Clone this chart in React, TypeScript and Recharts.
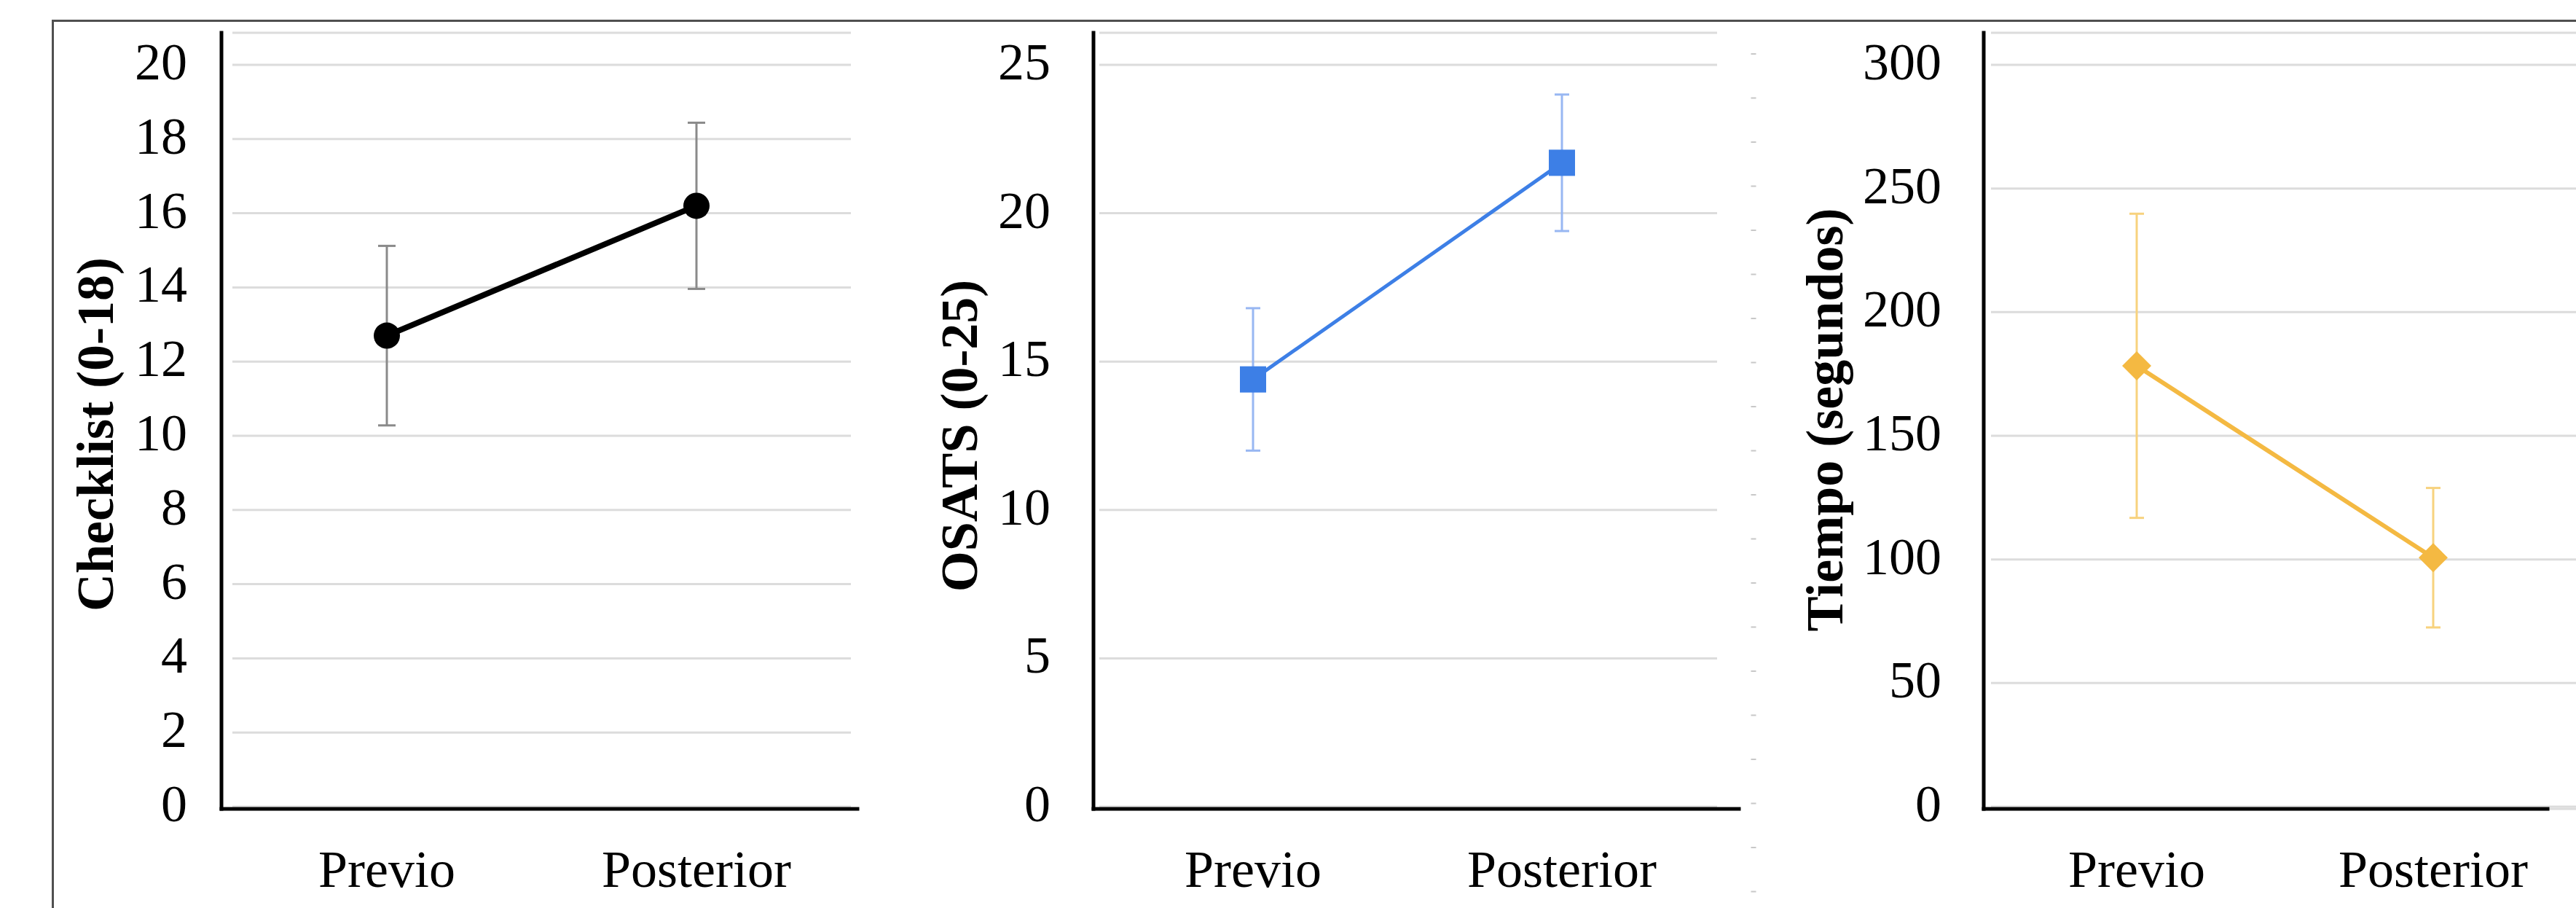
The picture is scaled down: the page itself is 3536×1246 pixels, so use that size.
import React from 'react';
import { LineChart, Line, XAxis, YAxis, CartesianGrid, ErrorBar } from 'recharts';

const categories = ['Previo', 'Posterior'];

const checklistMean = [12.7, 16.2];
const checklistErr = [2.42, 2.24];
const checklistTicks = [0, 2, 4, 6, 8, 10, 12, 14, 16, 18, 20];

const osatsMean = [14.4, 21.7];
const osatsErr = [2.4, 2.3];
const osatsTicks = [0, 5, 10, 15, 20, 25];

const tiempoMean = [178.3, 100.7];
const tiempoErr = [61.5, 28.2];
const tiempoTicks = [0, 50, 100, 150, 200, 250, 300];

const FONT = "'Liberation Serif', 'Times New Roman', Times, serif";

type Marker = 'circle' | 'square' | 'diamond';

interface PanelProps {
  left: number;
  width: number;
  marginLeft: number;
  marginRight: number;
  padLeft: number;
  padRight: number;
  gridL: number;
  gridR: number;
  means: number[];
  errs: number[];
  ticks: number[];
  tickGap: number;
  label: string;
  labelX: number;
  labelY: number;
  color: string;
  lineWidth: number;
  errColor: string;
  errWidth: number;
  capHalf: number;
  marker: Marker;
}

function Panel(p: PanelProps) {
  const data = categories.map((c, i) => ({ cat: c, mean: p.means[i], err: p.errs[i] }));
  const yMax = p.ticks[p.ticks.length - 1];

  const renderDot = (d: any) => {
    const { cx, cy, index } = d;
    if (cx == null || cy == null) return <g key={`d-${index}`} />;
    if (p.marker === 'circle') {
      return <circle key={`d-${index}`} cx={cx} cy={cy} r={18} fill={p.color} />;
    }
    if (p.marker === 'square') {
      return <rect key={`d-${index}`} x={cx - 18} y={cy - 18} width={36} height={36} fill={p.color} />;
    }
    return (
      <polygon
        key={`d-${index}`}
        points={`${cx},${cy - 20} ${cx + 20},${cy} ${cx},${cy + 20} ${cx - 20},${cy}`}
        fill={p.color}
      />
    );
  };

  const gridLine = (g: any) => (
    <line
      key={`g-${g.index}-${g.y1}`}
      x1={g.x1 + p.gridL}
      x2={g.x2 + p.gridR}
      y1={g.y1}
      y2={g.y2}
      stroke="#dcdcdc"
      strokeWidth={3}
    />
  );

  const yTick = (t: any) => (
    <text
      key={`yt-${t.index}`}
      x={t.x}
      y={t.y + 20}
      textAnchor="end"
      fontFamily={FONT}
      fontSize={72}
      fill="#000"
    >
      {t.payload.value}
    </text>
  );

  const xTick = (t: any) => (
    <text
      key={`xt-${t.index}`}
      x={t.x}
      y={t.y + 107}
      textAnchor="middle"
      fontFamily={FONT}
      fontSize={72}
      fill="#000"
    >
      {t.payload.value}
    </text>
  );

  const yLabel = () => (
    <text
      x={p.labelX}
      y={p.labelY}
      transform={`rotate(-90 ${p.labelX} ${p.labelY})`}
      textAnchor="middle"
      fontFamily={FONT}
      fontWeight="bold"
      fontSize={72}
      fill="#000"
    >
      {p.label}
    </text>
  );

  return (
    <div style={{ position: 'absolute', left: p.left, top: 0 }}>
      <LineChart
        width={p.width}
        height={1246}
        data={data}
        margin={{ top: 45, right: p.marginRight, bottom: 6, left: p.marginLeft }}
      >
        <CartesianGrid vertical={false} horizontal={gridLine} />
        <XAxis
          dataKey="cat"
          type="category"
          height={130}
          padding={{ left: p.padLeft, right: p.padRight }}
          axisLine={{ stroke: '#000', strokeWidth: 5, strokeLinecap: 'square' }}
          tickLine={false}
          tickSize={0}
          tickMargin={0}
          tick={xTick}
          interval={0}
        />
        <YAxis
          type="number"
          domain={[0, yMax]}
          ticks={p.ticks}
          width={100}
          padding={{ top: 44, bottom: 3 }}
          axisLine={{ stroke: '#000', strokeWidth: 5, strokeLinecap: 'square' }}
          tickLine={false}
          tickSize={0}
          tickMargin={p.tickGap}
          tick={yTick}
          interval={0}
          label={{ value: p.label, content: yLabel }}
        />
        <Line
          type="linear"
          dataKey="mean"
          stroke={p.color}
          strokeWidth={p.lineWidth}
          dot={renderDot}
          activeDot={false}
          isAnimationActive={false}
        >
          <ErrorBar
            dataKey="err"
            direction="y"
            width={p.capHalf}
            stroke={p.errColor}
            strokeWidth={p.errWidth}
            isAnimationActive={false}
          />
        </Line>
      </LineChart>
    </div>
  );
}

function Separator() {
  return (
    <svg
      style={{ position: 'absolute', left: 2400, top: 0 }}
      width={14}
      height={1246}
    >
      <line
        x1={7}
        x2={7}
        y1={73}
        y2={1246}
        stroke="#c8c8c8"
        strokeWidth={7}
        strokeDasharray="2 58.5"
      />
    </svg>
  );
}

export default function App() {
  return (
    <div
      style={{
        position: 'absolute',
        left: 0,
        top: 0,
        width: 3536,
        height: 1246,
        overflow: 'hidden',
        background: '#fff',
      }}
    >
      <div
        style={{
          position: 'absolute',
          left: 71,
          top: 27,
          width: 3600,
          height: 1400,
          borderLeft: '3px solid #505050',
          borderTop: '3px solid #505050',
        }}
      />
      <Panel
        left={0}
        width={1200}
        marginLeft={204}
        marginRight={23}
        padLeft={227}
        padRight={221}
        gridL={15}
        gridR={-9}
        means={checklistMean}
        errs={checklistErr}
        ticks={checklistTicks}
        tickGap={47}
        label="Checklist (0-18)"
        labelX={155}
        labelY={596}
        color="#000000"
        lineWidth={8}
        errColor="#8a8a8a"
        errWidth={3}
        capHalf={12}
        marker="circle"
      />
      <Panel
        left={1200}
        width={1220}
        marginLeft={201}
        marginRight={33}
        padLeft={219}
        padRight={243}
        gridL={8}
        gridR={-30}
        means={osatsMean}
        errs={osatsErr}
        ticks={osatsTicks}
        tickGap={59}
        label="OSATS (0-25)"
        labelX={141}
        labelY={598}
        color="#3d7fe6"
        lineWidth={5}
        errColor="#98b7f2"
        errWidth={3}
        capHalf={10}
        marker="square"
      />
      <Separator />
      <Panel
        left={2420}
        width={1116}
        marginLeft={203}
        marginRight={39}
        padLeft={210}
        padRight={157}
        gridL={10}
        gridR={39}
        means={tiempoMean}
        errs={tiempoErr}
        ticks={tiempoTicks}
        tickGap={58}
        label="Tiempo (segundos)"
        labelX={109}
        labelY={576}
        color="#f4b942"
        lineWidth={6}
        errColor="#f7d27e"
        errWidth={3}
        capHalf={10}
        marker="diamond"
      />
    </div>
  );
}
